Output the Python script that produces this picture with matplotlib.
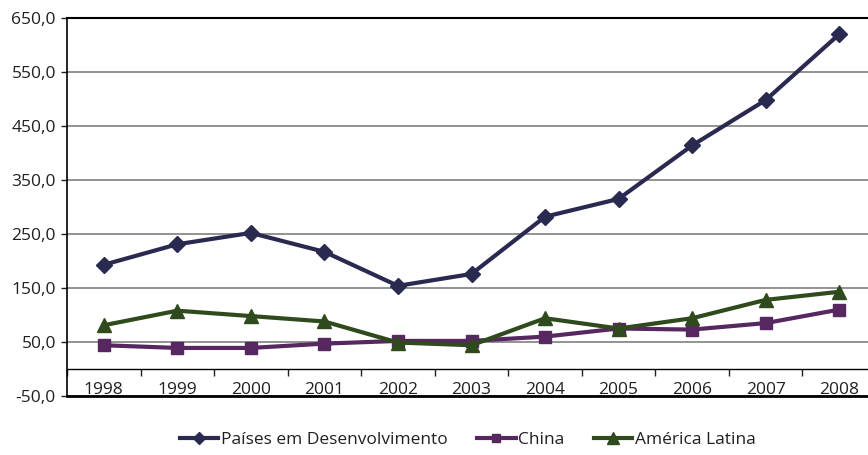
import matplotlib
matplotlib.use("Agg")
import matplotlib.pyplot as plt
from matplotlib.ticker import FuncFormatter, FixedLocator

plt.rcParams['font.family'] = ['Open Sans', 'DejaVu Sans']
plt.rcParams['text.color'] = '#231f20'
plt.rcParams['xtick.color'] = '#231f20'
plt.rcParams['ytick.color'] = '#231f20'

anos = [1998, 1999, 2000, 2001, 2002, 2003, 2004, 2005, 2006, 2007, 2008]
paises_dev = [193, 231, 252, 217, 154, 176, 282, 315, 414, 498, 620]
china = [44, 39, 39, 47, 52, 52, 60, 75, 73, 85, 110]
america_latina = [81, 108, 98, 88, 49, 44, 94, 75, 94, 128, 143]

fig = plt.figure(figsize=(8.68, 4.55), dpi=100)
ax = fig.add_axes([67 / 868, 1 - 396 / 455, (876 - 67) / 868, (396 - 18) / 455])

ax.plot(anos, paises_dev, color='#2a2950', lw=3, marker='D', ms=8,
        label='Países em Desenvolvimento')
ax.plot(anos, china, color='#57275f', lw=3, marker='s', ms=8, label='China')
ax.plot(anos, america_latina, color='#2f4a1c', lw=3, marker='^', ms=10,
        label='América Latina')

ax.set_xlim(1997.5, 2008.5)
ax.set_ylim(-50, 650)

yt = list(range(-50, 651, 100))
ax.set_yticks(yt)
ax.yaxis.set_major_formatter(FuncFormatter(lambda v, p: f'{v:.1f}'.replace('.', ',')))
ax.grid(axis='y', color='#8a8a8a', lw=1.3)
ax.set_axisbelow(True)
ax.tick_params(axis='y', length=4, width=1, labelsize=12.5, pad=4)

# category axis sits at y = 0
ax.spines['bottom'].set_position(('data', 0))
ax.spines['bottom'].set_linewidth(1)
ax.axhline(-50, color='black', lw=2, clip_on=False)
ax.spines['top'].set_linewidth(1.5)
ax.spines['right'].set_visible(False)
ax.spines['left'].set_linewidth(1.2)

ax.xaxis.set_major_locator(FixedLocator([a - 0.5 for a in anos] + [anos[-1] + 0.5]))
ax.xaxis.set_major_formatter(FuncFormatter(lambda v, p: ''))
ax.xaxis.set_minor_locator(FixedLocator(anos))
ax.xaxis.set_minor_formatter(FuncFormatter(lambda v, p: f'{int(round(v))}'))
ax.tick_params(axis='x', which='major', length=5, direction='out', width=1)
ax.tick_params(axis='x', which='minor', length=0, labelsize=12.5, pad=9)

fig.legend(loc='lower center', bbox_to_anchor=(0.539, -0.012), ncol=3, frameon=False,
           fontsize=12.5, handlelength=2.2, handletextpad=0.15, columnspacing=1.7,
           markerscale=0.8, borderpad=0.2)

fig.savefig('out.png', dpi=100)
